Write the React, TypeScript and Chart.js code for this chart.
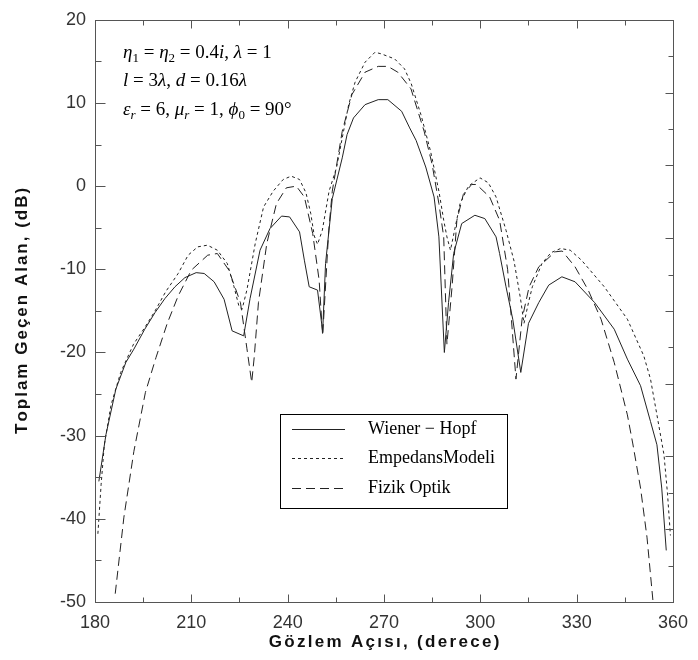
import React, { useEffect, useRef } from "react";
import { Chart, registerables } from "chart.js";
Chart.register(...registerables);

const xTicks = [180, 210, 240, 270, 300, 330, 360];
const yTicks = [-50, -40, -30, -20, -10, 0, 10, 20];
const seriesNames = ["Wiener − Hopf", "EmpedansModeli", "Fizik Optik"];
const xTitle = "Gözlem Açısı, (derece)";
const yTitle = "Toplam Geçen Alan, (dB)";

const wienerX = [181.2, 183.4, 186.5, 189.6, 192.1, 195.5, 198.7, 201.8, 204.9, 208.0, 211.5, 214.0, 217.1, 220.2, 222.7, 226.3, 228.3, 231.4, 234.5, 238.1, 240.6, 243.7, 245.2, 246.7, 249.3, 250.9, 251.8, 253.9, 257.0, 258.5, 260.5, 264.1, 268.2, 271.2, 275.5, 278.0, 280.0, 283.0, 285.6, 287.1, 288.8, 290.1, 291.7, 294.2, 298.3, 301.4, 304.9, 306.0, 308.0, 310.1, 312.6, 315.0, 318.2, 321.3, 325.4, 329.5, 335.6, 341.7, 345.8, 349.9, 353.0, 355.0, 356.5, 357.9];
const wienerY = [-35.5, -29.9, -24.4, -21.2, -19.6, -17.2, -15.2, -13.5, -12.1, -11.0, -10.4, -10.5, -11.5, -13.6, -17.4, -18.0, -13.5, -7.7, -5.1, -3.6, -3.7, -5.5, -8.9, -12.1, -12.5, -17.5, -9.3, -1.5, 3.4, 6.2, 8.2, 9.8, 10.4, 10.4, 9.0, 7.0, 5.5, 2.3, -1.3, -6.1, -20.0, -14.0, -8.1, -4.5, -3.5, -3.9, -6.1, -8.1, -12.1, -16.0, -22.4, -16.5, -14.0, -11.9, -10.9, -11.5, -14.0, -17.2, -20.8, -24.0, -28.3, -31.1, -36.3, -43.8];

const empX = [180.9, 181.9, 182.9, 185.0, 188.0, 192.0, 195.5, 198.7, 202.0, 205.9, 209.0, 212.0, 215.0, 218.1, 221.2, 223.3, 224.8, 225.8, 227.3, 229.9, 232.5, 235.5, 238.6, 241.1, 243.7, 245.7, 247.2, 248.3, 249.3, 250.8, 252.9, 255.2, 257.0, 259.0, 261.0, 264.1, 267.2, 269.2, 273.3, 276.4, 278.5, 281.5, 284.5, 287.1, 288.6, 289.6, 290.7, 292.2, 293.7, 296.3, 299.9, 302.5, 304.9, 308.0, 310.5, 312.5, 313.6, 315.0, 316.2, 319.2, 322.0, 325.0, 328.0, 331.5, 338.6, 345.8, 350.9, 353.0, 355.0, 357.2, 358.3, 359.2];
const empY = [-41.8, -35.9, -31.1, -26.3, -22.4, -19.0, -17.0, -15.0, -12.7, -10.5, -8.3, -7.3, -7.1, -7.7, -9.3, -12.1, -14.4, -14.8, -12.5, -6.9, -2.5, -0.6, 0.8, 1.2, 0.8, -0.8, -3.3, -6.0, -7.0, -5.3, -0.6, 2.2, 5.8, 9.8, 12.5, 14.9, 16.1, 15.9, 15.3, 14.1, 12.3, 8.6, 4.2, -0.6, -4.1, -6.1, -7.7, -4.9, -2.1, 0.0, 1.0, 0.4, -1.3, -5.3, -9.0, -13.5, -16.5, -14.0, -12.1, -9.3, -8.0, -7.5, -7.7, -8.9, -12.1, -16.0, -20.4, -23.2, -27.5, -32.3, -37.0, -42.0];

const fizikX = [186.3, 189.0, 192.1, 195.7, 199.0, 202.5, 205.9, 210.0, 215.1, 218.1, 221.7, 225.3, 227.3, 228.8, 229.6, 230.9, 233.5, 236.5, 239.6, 242.7, 245.2, 247.8, 249.8, 250.9, 252.8, 253.9, 257.0, 260.0, 264.1, 268.2, 271.2, 274.3, 278.4, 282.5, 285.0, 287.1, 288.6, 289.6, 291.2, 292.7, 294.7, 297.3, 298.8, 302.9, 306.0, 308.5, 311.1, 313.0, 315.2, 318.2, 323.3, 325.5, 329.5, 333.6, 337.6, 341.7, 345.8, 347.5, 349.9, 351.9, 353.8];
const fizikY = [-49.0, -39.8, -31.9, -24.8, -20.6, -16.5, -13.2, -10.1, -8.3, -8.1, -10.1, -14.0, -19.5, -23.6, -20.5, -14.0, -6.9, -2.1, -0.2, 0.0, -1.3, -5.7, -11.3, -18.0, -5.3, -0.6, 6.6, 11.0, 13.7, 14.4, 14.4, 13.7, 11.7, 6.6, 2.6, -2.1, -6.1, -19.0, -12.1, -4.1, -1.0, 0.2, 0.2, -1.3, -4.1, -10.0, -23.2, -16.0, -12.1, -9.7, -7.9, -7.8, -9.7, -12.5, -16.0, -21.2, -27.5, -31.0, -36.3, -42.2, -50.0];

const dashes = [[], [3, 3], [9, 5]];

type Seg = { t: string; it?: boolean; sub?: boolean };
const annotation: Seg[][] = [
  [{ t: "η", it: true }, { t: "1", sub: true }, { t: " = " }, { t: "η", it: true }, { t: "2", sub: true }, { t: " = 0.4" }, { t: "i", it: true }, { t: ", " }, { t: "λ", it: true }, { t: " = 1" }],
  [{ t: "l", it: true }, { t: " = 3" }, { t: "λ", it: true }, { t: ", " }, { t: "d", it: true }, { t: " = 0.16" }, { t: "λ", it: true }],
  [{ t: "ε", it: true }, { t: "r", it: true, sub: true }, { t: " = 6, " }, { t: "μ", it: true }, { t: "r", it: true, sub: true }, { t: " = 1, " }, { t: "ϕ", it: true }, { t: "0", sub: true }, { t: " = 90°" }],
];

function spacedWidth(ctx: CanvasRenderingContext2D, s: string, sp: number) {
  let w = 0;
  for (const ch of s) w += ctx.measureText(ch).width + sp;
  return w - sp;
}
function drawSpaced(ctx: CanvasRenderingContext2D, s: string, cx: number, y: number, sp: number) {
  let x = cx - spacedWidth(ctx, s, sp) / 2;
  for (const ch of s) {
    ctx.fillText(ch, x, y);
    x += ctx.measureText(ch).width + sp;
  }
}

const deco = {
  id: "deco",
  afterDraw(chart: any) {
    const { ctx, chartArea } = chart;
    const { left, right, top, bottom } = chartArea;
    const xs = chart.scales.x;
    const ys = chart.scales.y;
    ctx.save();
    ctx.strokeStyle = "#555";
    ctx.lineWidth = 1;
    const L = Math.round(left) + 0.5, R = Math.round(right) + 0.5, T = Math.round(top) + 0.5, B = Math.round(bottom) + 0.5;
    ctx.strokeRect(L, T, R - L, B - T);
    ctx.beginPath();
    for (let v = 195; v < 360; v += 15) {
      const px = Math.round(xs.getPixelForValue(v)) + 0.5;
      const len = (v - 180) % 30 === 0 ? 8 : 5;
      ctx.moveTo(px, B); ctx.lineTo(px, B - len);
      ctx.moveTo(px, T); ctx.lineTo(px, T + len);
    }
    for (let v = -45; v < 20; v += 5) {
      const py = Math.round(ys.getPixelForValue(v)) + 0.5;
      const len = v % 10 === 0 ? 10 : 6;
      ctx.moveTo(L, py); ctx.lineTo(L + len, py);
    }
    for (let k = 1; k < 16; k++) {
      const py = Math.round(top + (k * (bottom - top)) / 16) + 0.5;
      const len = k % 2 === 0 ? 8 : 5;
      ctx.moveTo(R, py); ctx.lineTo(R - len, py);
    }
    ctx.stroke();

    // axis titles
    ctx.fillStyle = "#111";
    ctx.font = 'bold 17px "Liberation Sans", Arial, sans-serif';
    ctx.textBaseline = "middle";
    ctx.textAlign = "left";
    drawSpaced(ctx, xTitle, (left + right) / 2, 642, 2.3);
    ctx.save();
    ctx.translate(22, (top + bottom) / 2);
    ctx.rotate(-Math.PI / 2);
    drawSpaced(ctx, yTitle, 0, 0, 2);
    ctx.restore();

    // annotation
    ctx.textBaseline = "alphabetic";
    ctx.fillStyle = "#000";
    const baseY = [58, 86, 115];
    annotation.forEach((row, i) => {
      let x = 123;
      row.forEach((s) => {
        const size = s.sub ? 13 : 19;
        ctx.font = `${s.it ? "italic " : ""}${size}px "Liberation Serif", "Times New Roman", serif`;
        ctx.fillText(s.t, x, baseY[i] + (s.sub ? 4 : 0));
        x += ctx.measureText(s.t).width;
      });
    });

    // legend
    ctx.strokeStyle = "#000";
    ctx.lineWidth = 1;
    ctx.strokeRect(280.5, 414.5, 227, 94);
    const rowsY = [429, 458, 488];
    ctx.font = '18px "Liberation Serif", "Times New Roman", serif';
    ctx.textBaseline = "middle";
    seriesNames.forEach((n, i) => {
      ctx.save();
      ctx.strokeStyle = "#222";
      ctx.setLineDash(dashes[i]);
      ctx.beginPath();
      ctx.moveTo(292, rowsY[i] + 0.5);
      ctx.lineTo(345, rowsY[i] + 0.5);
      ctx.stroke();
      ctx.restore();
      ctx.fillStyle = "#000";
      ctx.fillText(n, 368, rowsY[i]);
    });
    ctx.restore();
  },
};

export default function App() {
  const ref = useRef<HTMLCanvasElement | null>(null);
  useEffect(() => {
    if (!ref.current) return;
    const mk = (xs: number[], ys: number[]) => xs.map((x, i) => ({ x, y: ys[i] }));
    const datasets = [mk(wienerX, wienerY), mk(empX, empY), mk(fizikX, fizikY)].map((d, i) => ({
      label: seriesNames[i],
      data: d,
      showLine: true,
      borderColor: "#222",
      borderWidth: 1,
      borderDash: dashes[i],
      pointRadius: 0,
      tension: 0,
      fill: false,
    }));
    const tickFont = { family: '"Liberation Sans", Arial, sans-serif', size: 18 };
    const chart = new Chart(ref.current, {
      type: "scatter",
      data: { datasets },
      options: {
        animation: false,
        responsive: false,
        layout: { padding: { left: 0, right: 15, top: 14, bottom: 0 } },
        plugins: { legend: { display: false }, tooltip: { enabled: false } },
        scales: {
          x: {
            type: "linear",
            min: 180,
            max: 360,
            afterBuildTicks: (s: any) => { s.ticks = xTicks.map((v) => ({ value: v })); },
            afterFit: (s: any) => { s.height = 58; },
            grid: { display: false, drawTicks: false, tickLength: 0 },
            border: { display: false },
            ticks: { font: tickFont, color: "#333", padding: 10, maxRotation: 0, autoSkip: false },
          },
          y: {
            type: "linear",
            min: -50,
            max: 20,
            afterBuildTicks: (s: any) => { s.ticks = yTicks.map((v) => ({ value: v })); },
            afterFit: (s: any) => { s.width = 95; },
            grid: { display: false, drawTicks: false, tickLength: 0 },
            border: { display: false },
            ticks: { font: tickFont, color: "#333", padding: 9, autoSkip: false },
          },
        },
      },
      plugins: [deco],
    } as any);
    return () => chart.destroy();
  }, []);
  return (
    <div style={{ position: "absolute", left: 0, top: 0, width: 698, height: 660, background: "#fff" }}>
      <canvas ref={ref} width={698} height={660} style={{ width: 698, height: 660 }} />
    </div>
  );
}
